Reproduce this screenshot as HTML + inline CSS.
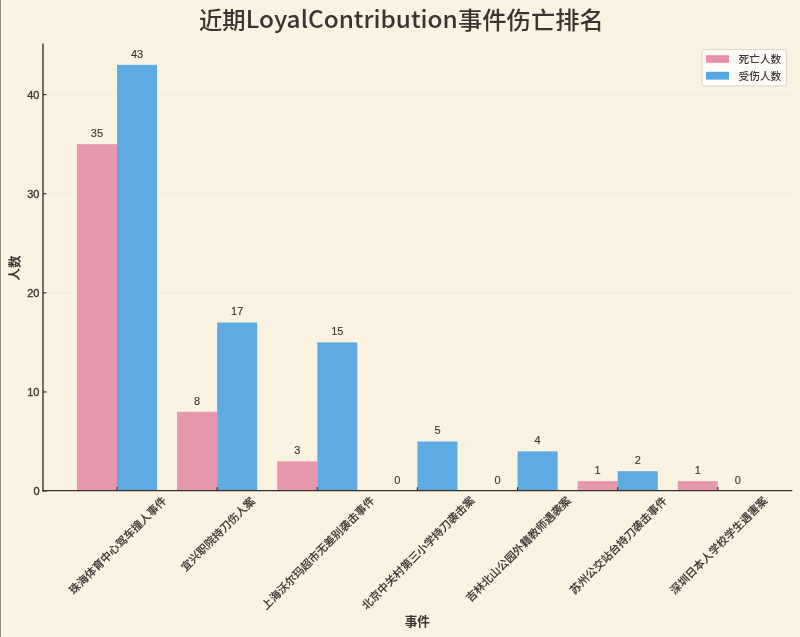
<!DOCTYPE html>
<html><head><meta charset="utf-8"><title>近期LoyalContribution事件伤亡排名</title>
<style>
html,body{margin:0;padding:0;background:#FAF3E1;}
body{width:800px;height:637px;overflow:hidden;position:relative;}
svg{display:block;position:absolute;left:0;top:0;will-change:transform;}
text{font-family:"Noto Sans CJK SC", "Liberation Sans", sans-serif;fill:#3a3530;}
.v{font-size:11px;font-family:"Liberation Sans", "Noto Sans CJK SC", sans-serif;stroke:#3a3530;stroke-width:0.12px;}
.t{font-size:11px;font-family:"Liberation Sans", "Noto Sans CJK SC", sans-serif;stroke:#3a3530;stroke-width:0.35px;}
.x{font-size:11px;font-weight:500;stroke:#3a3530;stroke-width:0.12px;}
.al{font-size:12.6px;font-weight:700;}
.lg{font-size:10.7px;font-weight:500;}
.title{font-size:24px;font-weight:500;}
</style></head>
<body>
<svg width="800" height="637" viewBox="0 0 800 637">
<rect x="0" y="0" width="800" height="637" fill="#FAF3E1"/>
<rect x="0" y="0" width="1" height="637" fill="#968F7F"/>
<line x1="43" y1="391.92" x2="792" y2="391.92" stroke="#F3EBD8" stroke-width="1"/>
<line x1="43" y1="292.81" x2="792" y2="292.81" stroke="#F3EBD8" stroke-width="1"/>
<line x1="43" y1="193.70" x2="792" y2="193.70" stroke="#F3EBD8" stroke-width="1"/>
<line x1="43" y1="94.59" x2="792" y2="94.59" stroke="#F3EBD8" stroke-width="1"/>
<rect x="76.94" y="144.14" width="40.06" height="346.88" fill="#E699AC"/>
<rect x="117.00" y="64.86" width="40.06" height="426.17" fill="#5DABE2"/>
<rect x="177.08" y="411.74" width="40.06" height="79.29" fill="#E699AC"/>
<rect x="217.14" y="322.54" width="40.06" height="168.49" fill="#5DABE2"/>
<rect x="277.22" y="461.30" width="40.06" height="29.73" fill="#E699AC"/>
<rect x="317.28" y="342.37" width="40.06" height="148.66" fill="#5DABE2"/>
<rect x="417.42" y="441.47" width="40.06" height="49.55" fill="#5DABE2"/>
<rect x="517.56" y="451.39" width="40.06" height="39.64" fill="#5DABE2"/>
<rect x="577.64" y="481.12" width="40.06" height="9.91" fill="#E699AC"/>
<rect x="617.70" y="471.21" width="40.06" height="19.82" fill="#5DABE2"/>
<rect x="677.78" y="481.12" width="40.06" height="9.91" fill="#E699AC"/>
<text x="96.97" y="136.94" text-anchor="middle" class="v">35</text>
<text x="137.03" y="57.66" text-anchor="middle" class="v">43</text>
<text x="197.11" y="404.54" text-anchor="middle" class="v">8</text>
<text x="237.17" y="315.34" text-anchor="middle" class="v">17</text>
<text x="297.25" y="454.10" text-anchor="middle" class="v">3</text>
<text x="337.31" y="335.17" text-anchor="middle" class="v">15</text>
<text x="397.39" y="483.83" text-anchor="middle" class="v">0</text>
<text x="437.45" y="434.27" text-anchor="middle" class="v">5</text>
<text x="497.53" y="483.83" text-anchor="middle" class="v">0</text>
<text x="537.59" y="444.19" text-anchor="middle" class="v">4</text>
<text x="597.67" y="473.92" text-anchor="middle" class="v">1</text>
<text x="637.73" y="464.01" text-anchor="middle" class="v">2</text>
<text x="697.81" y="473.92" text-anchor="middle" class="v">1</text>
<text x="737.87" y="483.83" text-anchor="middle" class="v">0</text>
<line x1="43" y1="491.03" x2="46.5" y2="491.03" stroke="#3a3530" stroke-width="1.2"/>
<text x="39.5" y="495.03" text-anchor="end" class="t">0</text>
<line x1="43" y1="391.92" x2="46.5" y2="391.92" stroke="#3a3530" stroke-width="1.2"/>
<text x="39.5" y="395.92" text-anchor="end" class="t">10</text>
<line x1="43" y1="292.81" x2="46.5" y2="292.81" stroke="#3a3530" stroke-width="1.2"/>
<text x="39.5" y="296.81" text-anchor="end" class="t">20</text>
<line x1="43" y1="193.70" x2="46.5" y2="193.70" stroke="#3a3530" stroke-width="1.2"/>
<text x="39.5" y="197.70" text-anchor="end" class="t">30</text>
<line x1="43" y1="94.59" x2="46.5" y2="94.59" stroke="#3a3530" stroke-width="1.2"/>
<text x="39.5" y="98.59" text-anchor="end" class="t">40</text>
<line x1="117.00" y1="490.6" x2="117.00" y2="487.1" stroke="#3a3530" stroke-width="1.2"/>
<line x1="217.14" y1="490.6" x2="217.14" y2="487.1" stroke="#3a3530" stroke-width="1.2"/>
<line x1="317.28" y1="490.6" x2="317.28" y2="487.1" stroke="#3a3530" stroke-width="1.2"/>
<line x1="417.42" y1="490.6" x2="417.42" y2="487.1" stroke="#3a3530" stroke-width="1.2"/>
<line x1="517.56" y1="490.6" x2="517.56" y2="487.1" stroke="#3a3530" stroke-width="1.2"/>
<line x1="617.70" y1="490.6" x2="617.70" y2="487.1" stroke="#3a3530" stroke-width="1.2"/>
<line x1="717.84" y1="490.6" x2="717.84" y2="487.1" stroke="#3a3530" stroke-width="1.2"/>
<line x1="43" y1="43.4" x2="43" y2="491.3" stroke="#3a3228" stroke-width="1.4"/>
<line x1="42.3" y1="490.6" x2="792.3" y2="490.6" stroke="#3a3228" stroke-width="1.4"/>
<text x="117.0" y="544.68" text-anchor="middle" dominant-baseline="central" class="x" transform="rotate(-45 117.0 544.68)">珠海体育中心驾车撞人事件</text>
<text x="217.14" y="533.33" text-anchor="middle" dominant-baseline="central" class="x" transform="rotate(-45 217.14 533.33)">宜兴职院持刀伤人案</text>
<text x="317.28" y="552.24" text-anchor="middle" dominant-baseline="central" class="x" transform="rotate(-45 317.28 552.24)">上海沃尔玛超市无差别袭击事件</text>
<text x="417.42" y="552.24" text-anchor="middle" dominant-baseline="central" class="x" transform="rotate(-45 417.42 552.24)">北京中关村第三小学持刀袭击案</text>
<text x="517.56" y="548.46" text-anchor="middle" dominant-baseline="central" class="x" transform="rotate(-45 517.56 548.46)">吉林北山公园外籍教师遇袭案</text>
<text x="617.7" y="544.68" text-anchor="middle" dominant-baseline="central" class="x" transform="rotate(-45 617.7 544.68)">苏州公交站台持刀袭击事件</text>
<text x="717.84" y="544.68" text-anchor="middle" dominant-baseline="central" class="x" transform="rotate(-45 717.84 544.68)">深圳日本人学校学生遇害案</text>
<text x="417.3" y="626.2" text-anchor="middle" class="al">事件</text>
<text x="0" y="0" text-anchor="middle" class="al" transform="translate(19.2 268) rotate(-90)">人数</text>
<text y="29" class="title"><tspan x="198.9" style="font-size:23.3px">近期</tspan><tspan x="245.8" y="28.2" style="font-size:23.5px" textLength="212" lengthAdjust="spacingAndGlyphs">LoyalContribution</tspan><tspan x="458" y="29" style="font-size:24.3px">事件伤亡排名</tspan></text>
<rect x="702" y="49.6" width="84.4" height="36.4" rx="2" fill="#FEFCF9" stroke="#D8D3CA" stroke-width="1"/>
<rect x="706" y="55.2" width="23" height="7.6" fill="#E890A7"/>
<rect x="706" y="71.8" width="23" height="7.8" fill="#53A7E3"/>
<text x="738.5" y="63" class="lg">死亡人数</text>
<text x="738.5" y="79.5" class="lg">受伤人数</text>
</svg>
</body></html>
